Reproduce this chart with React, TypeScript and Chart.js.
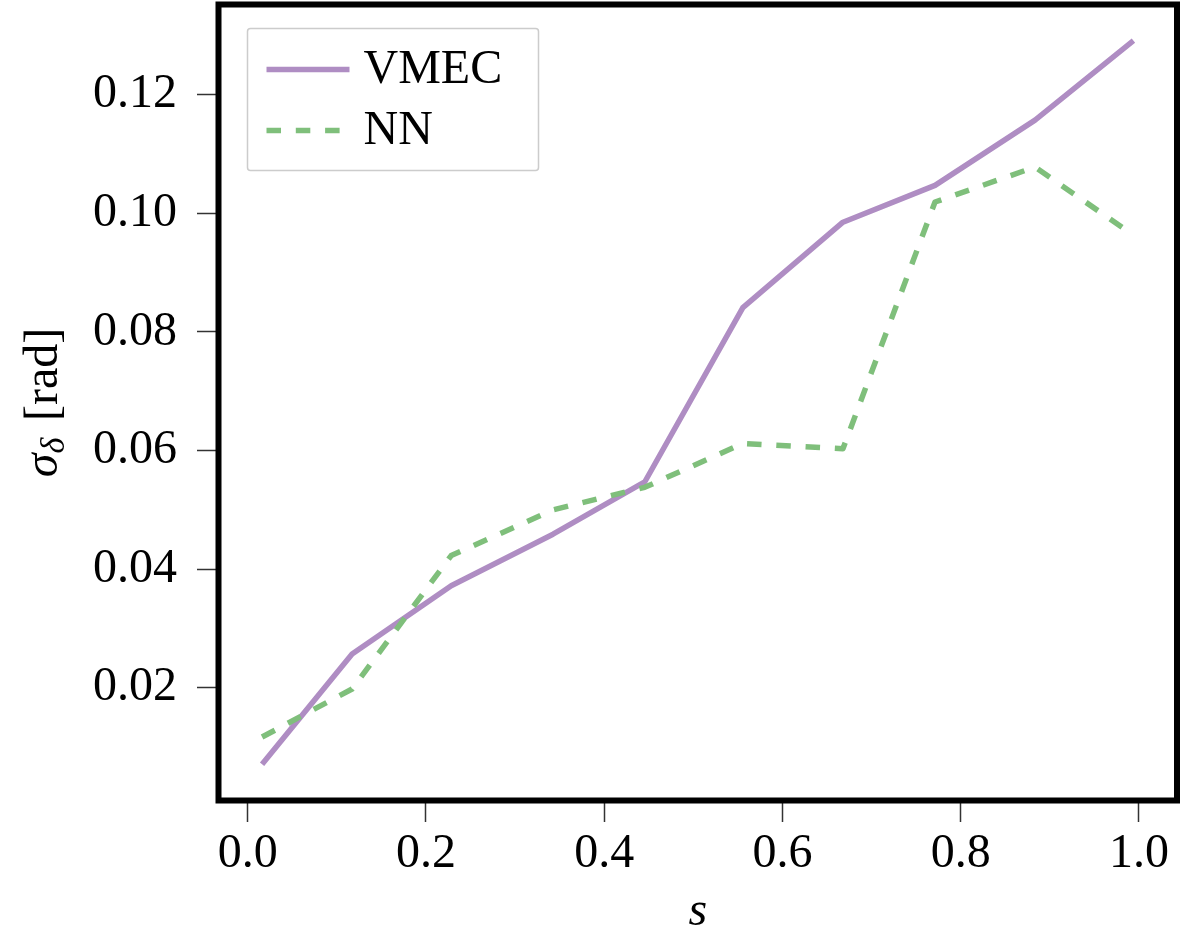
import React, { useEffect, useRef } from "react";
import { Chart, registerables } from "chart.js";

Chart.register(...registerables);

// ---- data ----
const S_VALUES = [0.0162, 0.1172, 0.2284, 0.3426, 0.4455, 0.5556, 0.6679, 0.7712, 0.8834, 0.9938];
const VMEC_VALUES = [0.0071, 0.0257, 0.0372, 0.0459, 0.0547, 0.0841, 0.0985, 0.1047, 0.1157, 0.1291];
const NN_VALUES = [0.0117, 0.0198, 0.0423, 0.05, 0.0538, 0.0612, 0.0603, 0.1019, 0.1078, 0.0963];
const SERIES_NAMES = ["VMEC", "NN"];
const X_TICKS = [0, 0.2, 0.4, 0.6, 0.8, 1.0];
const X_TICK_LABELS = ["0.0", "0.2", "0.4", "0.6", "0.8", "1.0"];
const Y_TICKS = [0.02, 0.04, 0.06, 0.08, 0.1, 0.12];
const Y_TICK_LABELS = ["0.02", "0.04", "0.06", "0.08", "0.10", "0.12"];
const X_LABEL = "s";
const Y_LABEL_MAIN = "σ";
const Y_LABEL_SUB = "δ";
const Y_LABEL_UNIT = "[rad]";

const PURPLE = "#af8dc3";
const GREEN = "#7fbf7b";
const FONT = "'Liberation Serif', 'Times New Roman', serif";
const FS = 48;

function padRange(vals: number[]) {
  const mn = Math.min(...vals);
  const mx = Math.max(...vals);
  const r = mx - mn;
  return [mn - 0.05 * r, mx + 0.05 * r];
}

const [X_MIN, X_MAX] = padRange(S_VALUES);
const [Y_MIN, Y_MAX] = padRange([...VMEC_VALUES, ...NN_VALUES]);

const framePlugin = {
  id: "frame",
  afterDatasetsDraw(chart: any) {
    const { ctx, chartArea: a } = chart;
    ctx.save();
    ctx.strokeStyle = "#000";
    ctx.lineWidth = 6;
    ctx.lineJoin = "miter";
    ctx.strokeRect(a.left, a.top, a.right - a.left, a.bottom - a.top);
    ctx.restore();
  },
};

const legendPlugin = {
  id: "customLegend",
  afterDraw(chart: any) {
    const { ctx, chartArea: a } = chart;
    const bx = a.left + 29;
    const by = a.top + 24;
    const bw = 291;
    const bh = 142;
    ctx.save();
    ctx.fillStyle = "rgba(255,255,255,0.85)";
    ctx.strokeStyle = "#cccccc";
    ctx.lineWidth = 1.5;
    ctx.beginPath();
    if ((ctx as any).roundRect) (ctx as any).roundRect(bx, by, bw, bh, 3);
    else ctx.rect(bx, by, bw, bh);
    ctx.fill();
    ctx.stroke();

    const lx0 = bx + 19;
    const lx1 = bx + 102;
    const rows = [by + 41, by + 102];
    const colors = [PURPLE, GREEN];
    const dashes = [[], [14.5, 14.8]];
    for (let i = 0; i < 2; i++) {
      ctx.beginPath();
      ctx.strokeStyle = colors[i];
      ctx.lineWidth = 5.5;
      ctx.lineCap = "butt";
      ctx.setLineDash(dashes[i]);
      ctx.moveTo(lx0, rows[i]);
      ctx.lineTo(lx1, rows[i]);
      ctx.stroke();
      ctx.setLineDash([]);
      ctx.fillStyle = "#000";
      ctx.font = `${FS}px ${FONT}`;
      ctx.textBaseline = "middle";
      ctx.textAlign = "left";
      ctx.fillText(SERIES_NAMES[i], bx + 116, rows[i] + 1);
    }
    ctx.restore();
  },
};

const titlesPlugin = {
  id: "axisTitles",
  afterDraw(chart: any) {
    const { ctx, chartArea: a } = chart;
    ctx.save();
    ctx.fillStyle = "#000";
    // x title
    ctx.font = `italic ${FS}px ${FONT}`;
    ctx.textAlign = "center";
    ctx.textBaseline = "alphabetic";
    ctx.fillText(X_LABEL, (a.left + a.right) / 2, 925);

    // y title (rotated)
    const cy = (a.top + a.bottom) / 2;
    ctx.translate(57, cy);
    ctx.rotate(-Math.PI / 2);
    ctx.textAlign = "left";
    const fMain = `italic ${FS}px ${FONT}`;
    const fSub = `italic ${Math.round(FS * 0.7)}px ${FONT}`;
    const fUnit = `${FS}px ${FONT}`;
    ctx.font = fMain;
    const w1 = ctx.measureText(Y_LABEL_MAIN).width;
    ctx.font = fSub;
    const w2 = ctx.measureText(Y_LABEL_SUB).width;
    ctx.font = fUnit;
    const gap = FS * 0.35;
    const w3 = ctx.measureText(Y_LABEL_UNIT).width;
    const total = w1 + w2 + gap + w3;
    let x = -total / 2;
    ctx.font = fMain;
    ctx.fillText(Y_LABEL_MAIN, x, 0);
    x += w1;
    ctx.font = fSub;
    ctx.fillText(Y_LABEL_SUB, x, 7);
    x += w2 + gap;
    ctx.font = fUnit;
    ctx.fillText(Y_LABEL_UNIT, x, 0);
    ctx.restore();
  },
};

export default function App() {
  const ref = useRef<HTMLCanvasElement | null>(null);

  useEffect(() => {
    if (!ref.current) return;
    const chart = new Chart(ref.current, {
      type: "line",
      data: {
        datasets: [
          {
            label: SERIES_NAMES[0],
            data: S_VALUES.map((s, i) => ({ x: s, y: VMEC_VALUES[i] })),
            borderColor: PURPLE,
            borderWidth: 5.5,
            pointRadius: 0,
            tension: 0,
            fill: false,
            borderJoinStyle: "round",
            borderCapStyle: "butt",
            order: 1,
          },
          {
            label: SERIES_NAMES[1],
            data: S_VALUES.map((s, i) => ({ x: s, y: NN_VALUES[i] })),
            borderColor: GREEN,
            borderWidth: 5.5,
            borderDash: [14.5, 14.8],
            pointRadius: 0,
            tension: 0,
            fill: false,
            borderJoinStyle: "round",
            borderCapStyle: "butt",
            order: 0,
          },
        ],
      },
      options: {
        animation: false,
        responsive: false,
        devicePixelRatio: 1,
        layout: { padding: { left: 0, right: 7, top: 4.5, bottom: 0 } },
        plugins: {
          legend: { display: false },
          tooltip: { enabled: false },
          title: { display: false },
        },
        scales: {
          x: {
            type: "linear",
            min: X_MIN,
            max: X_MAX,
            afterFit: (s: any) => {
              s.height = 127.5;
              s.paddingLeft = 0;
              s.paddingRight = 0;
              s.paddingTop = 0;
              s.paddingBottom = 0;
            },
            afterBuildTicks: (s: any) => {
              s.ticks = X_TICKS.map((v) => ({ value: v }));
            },
            ticks: {
              callback: (v: any) => X_TICK_LABELS[X_TICKS.indexOf(v)] ?? "",
              font: { family: FONT, size: FS },
              color: "#000",
              padding: 4,
              maxRotation: 0,
              autoSkip: false,
            },
            grid: {
              drawOnChartArea: false,
              drawTicks: true,
              tickLength: 21.5,
              tickColor: "#333",
              tickWidth: 1.5,
            },
            border: { display: false },
          },
          y: {
            type: "linear",
            min: Y_MIN,
            max: Y_MAX,
            afterFit: (s: any) => {
              s.width = 218.5;
              s.paddingLeft = 0;
              s.paddingRight = 0;
              s.paddingTop = 0;
              s.paddingBottom = 0;
            },
            afterBuildTicks: (s: any) => {
              s.ticks = Y_TICKS.map((v) => ({ value: v }));
            },
            ticks: {
              callback: (v: any) => Y_TICK_LABELS[Y_TICKS.indexOf(v)] ?? "",
              font: { family: FONT, size: FS },
              color: "#000",
              padding: 20,
              autoSkip: false,
            },
            grid: {
              drawOnChartArea: false,
              drawTicks: true,
              tickLength: 21.5,
              tickColor: "#333",
              tickWidth: 1.5,
            },
            border: { display: false },
          },
        },
      } as any,
      plugins: [framePlugin, legendPlugin, titlesPlugin],
    });
    return () => chart.destroy();
  }, []);

  return (
    <div
      style={{
        position: "fixed",
        left: 0,
        top: 0,
        width: 1184,
        height: 928,
        background: "#fff",
      }}
    >
      <canvas ref={ref} width={1184} height={928} style={{ width: 1184, height: 928, display: "block" }} />
    </div>
  );
}
